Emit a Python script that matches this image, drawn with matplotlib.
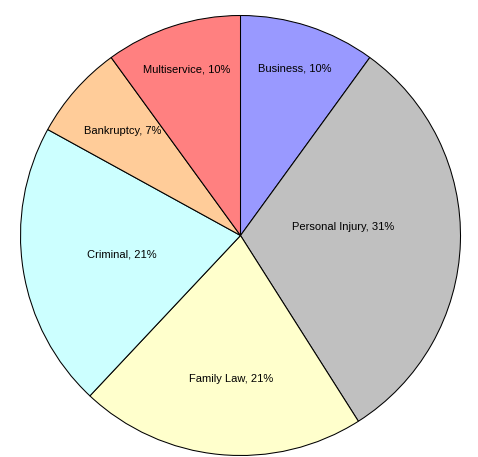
import numpy as np
import matplotlib
matplotlib.use("Agg")
import matplotlib.pyplot as plt

# slice data, clockwise from 12 o'clock
categories = ["Business", "Personal Injury", "Family Law", "Criminal", "Bankruptcy", "Multiservice"]
shares = [10, 31, 21, 21, 7, 10]
colors = ["#9999FF", "#C0C0C0", "#FFFFCC", "#CCFFFF", "#FFCC99", "#FF8080"]
# label placement: fraction of radius, and angle nudge (deg) from the slice middle
label_r = [0.796, 0.468, 0.655, 0.547, 0.716, 0.793]
label_dang = [0, 6.7, 1.7, 0, 0, 0]

plt.rcParams['font.family'] = ['Liberation Sans', 'DejaVu Sans']

fig = plt.figure(figsize=(4.78, 4.57), dpi=100)
ax = fig.add_axes([0, 0, 1, 1])

wedges, _ = ax.pie(shares, colors=colors, startangle=90, counterclock=False,
                   wedgeprops=dict(edgecolor='black', linewidth=0.75))

for w, name, val, r, da in zip(wedges, categories, shares, label_r, label_dang):
    mid = np.deg2rad((w.theta1 + w.theta2) / 2 + da)
    ax.text(r * np.cos(mid), r * np.sin(mid), f"{name}, {val}%",
            ha='center', va='center', fontsize=8, color='black')

# place the pie like the original (center ~ (240.5, 235.5) px, radius ~220 px)
s = 220.0
ax.set_aspect('auto')
ax.set_xlim(-240.5 / s, (478 - 240.5) / s)
ax.set_ylim(-(457 - 235.5) / s, 235.5 / s)
ax.axis('off')

fig.savefig("out.png", dpi=100, facecolor='white')
